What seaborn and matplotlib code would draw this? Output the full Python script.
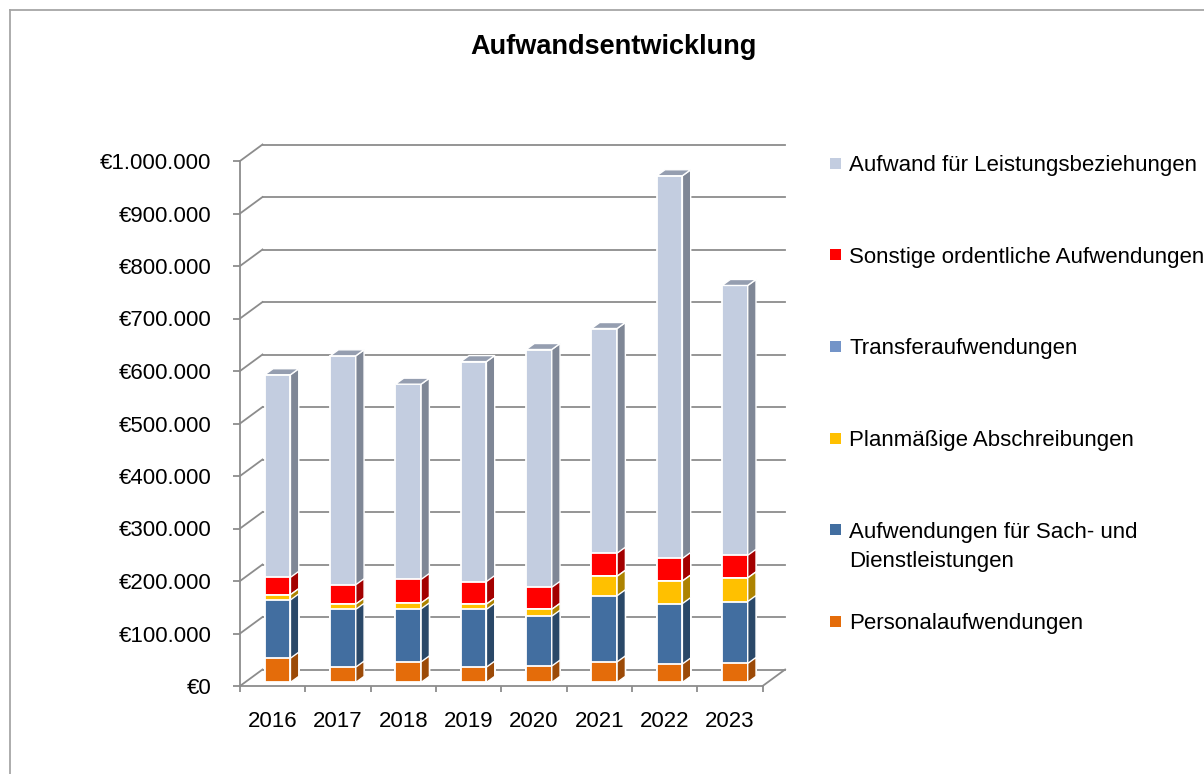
import numpy as np
import matplotlib
matplotlib.use("Agg")
import matplotlib.pyplot as plt
import seaborn as sns
from matplotlib.patches import Polygon, Rectangle
from matplotlib.lines import Line2D
from matplotlib.ticker import FuncFormatter

# ---------------- data ----------------
years = ["2016", "2017", "2018", "2019", "2020", "2021", "2022", "2023"]
personal = [46000, 29000, 39000, 29000, 31000, 39000, 35000, 36000]
sach_dienst = [111000, 110000, 101000, 110000, 95000, 126000, 115000, 118000]
abschreibungen = [10000, 10000, 11000, 10000, 13000, 37000, 43000, 45000]
transfer = [0, 0, 0, 0, 0, 0, 0, 0]
sonstige = [33000, 37000, 45000, 43000, 42000, 44000, 43000, 43000]
leistung = [386000, 436000, 372000, 419000, 453000, 428000, 729000, 514000]

series_names = ["Personalaufwendungen",
                "Aufwendungen für Sach- und\nDienstleistungen",
                "Planmäßige Abschreibungen",
                "Transferaufwendungen",
                "Sonstige ordentliche Aufwendungen",
                "Aufwand für Leistungsbeziehungen"]
series_values = [personal, sach_dienst, abschreibungen, transfer, sonstige, leistung]
front_colors = ["#E46C0A", "#426EA0", "#FFC000", "#7394C8", "#FF0000", "#C3CDE0"]
side_colors = ["#9C4A07", "#2A4868", "#AD8300", "#4E6690", "#A30000", "#7F8796"]
top_color = "#959EB0"

yticks = list(range(0, 1000001, 100000))

# ---------------- figure ----------------
W, H = 1204, 774
plt.rcParams["font.family"] = ["Liberation Sans", "DejaVu Sans"]
fig = plt.figure(figsize=(W / 100, H / 100), dpi=100)
fig.patch.set_facecolor("white")

ax_left, ax_right, ax_bottom, ax_top = 240, 762.6, 686, 161
ax = fig.add_axes([ax_left / W, (H - ax_bottom) / H,
                   (ax_right - ax_left) / W, (ax_bottom - ax_top) / H])
ax.set_facecolor("none")

n = len(years)
px_per_cat = (ax_right - ax_left) / n
px_per_val = (ax_bottom - ax_top) / 1e6

# 3D geometry (in pixels -> data units)
wall_dx = 22.5 / px_per_cat
wall_dy = 16.5 / px_per_val
bar_dx = 8.3 / px_per_cat
bar_dy = 6.0 / px_per_val
depth_frac = 0.22
off_x = depth_frac * wall_dx
off_y = depth_frac * wall_dy
bar_w = 0.393
grid_c = "#8C8C8C"

# back wall gridlines + left wall diagonals
for v in yticks:
    ax.plot([-0.5, -0.5 + wall_dx], [v, v + wall_dy], color=grid_c, lw=1.3,
            clip_on=False, zorder=0.5)
    ax.plot([-0.5 + wall_dx, n - 0.5 + wall_dx], [v + wall_dy, v + wall_dy],
            color=grid_c, lw=1.3, clip_on=False, zorder=0.5)
# floor right edge
ax.plot([n - 0.5, n - 0.5 + wall_dx], [0, wall_dy], color=grid_c, lw=1.3,
        clip_on=False, zorder=0.5)

# stacked bars drawn as cumulative layers (tallest first)
cum = np.cumsum(np.array(series_values, dtype=float), axis=0)
for k in range(len(series_values) - 1, -1, -1):
    n_before = len(ax.patches)
    sns.barplot(x=years, y=cum[k], color=front_colors[k], saturation=1,
                width=bar_w, edgecolor="white", linewidth=1.3, ax=ax, zorder=1)
    new = ax.patches[n_before:]
    for p in new:
        p.set_x(p.get_x() + off_x)
        p.set_y(off_y)
        x0 = p.get_x()
        w = p.get_width()
        y0 = off_y
        y1 = off_y + p.get_height()
        side = Polygon([(x0 + w, y0), (x0 + w + bar_dx, y0 + bar_dy),
                        (x0 + w + bar_dx, y1 + bar_dy), (x0 + w, y1)],
                       closed=True, facecolor=side_colors[k], edgecolor="white",
                       linewidth=1.0, clip_on=False, zorder=1)
        ax.add_patch(side)
        if k == len(series_values) - 1:
            top = Polygon([(x0, y1), (x0 + bar_dx, y1 + bar_dy),
                           (x0 + w + bar_dx, y1 + bar_dy), (x0 + w, y1)],
                          closed=True, facecolor=top_color, edgecolor="white",
                          linewidth=1.0, clip_on=False, zorder=1)
            ax.add_patch(top)
        p.set_clip_on(False)

# axes
ax.set_xlim(-0.5, n - 0.5)
ax.set_ylim(0, 1e6)
ax.set_xlabel("")
ax.set_ylabel("")
for s in ["top", "right"]:
    ax.spines[s].set_visible(False)
for s in ["left", "bottom"]:
    ax.spines[s].set_color(grid_c)
    ax.spines[s].set_linewidth(1.3)

ax.set_xticks(np.arange(-0.5, n, 1.0))
ax.set_xticklabels([])
ax.set_xticks(np.arange(n), minor=True)
ax.set_xticklabels(years, minor=True)
ax.tick_params(axis="x", which="major", length=4.5, width=1.3, color=grid_c)
ax.tick_params(axis="x", which="minor", length=0, pad=18, labelsize=16,
               labelcolor="black")

ax.set_yticks(yticks)
ax.yaxis.set_major_formatter(
    FuncFormatter(lambda v, _: "€" + f"{int(round(v)):,}".replace(",", ".")))
ax.tick_params(axis="y", length=5, width=1.3, color=grid_c, pad=15.5,
               labelsize=16, labelcolor="black")

# title
fig.text(614 / W, 1 - 47 / H, "Aufwandsentwicklung", ha="center", va="center",
         fontsize=19.5, fontweight="bold")

# legend (manual, top-to-bottom = reversed stack order)
leg_y0, leg_step, line_px = 163, 91.7, 29.5
for i, k in enumerate(range(len(series_names) - 1, -1, -1)):
    yc = leg_y0 + i * leg_step
    extra = series_names[k].count("\n") * line_px
    fig.add_artist(Rectangle((830 / W, 1 - (yc + 5.5) / H), 11 / W, 11 / H,
                             transform=fig.transFigure,
                             facecolor=front_colors[k], edgecolor="none"))
    fig.text(849 / W, 1 - (yc + 8 + extra) / H, series_names[k], ha="left",
             va="baseline", fontsize=16, linespacing=1.5)

# outer frame
frame_c = "#A6A6A6"
fig.add_artist(Line2D([9.5 / W, 9.5 / W], [0, 1 - 10 / H],
                      transform=fig.transFigure, color=frame_c, lw=1.3))
fig.add_artist(Line2D([9.5 / W, 1], [1 - 10 / H, 1 - 10 / H],
                      transform=fig.transFigure, color=frame_c, lw=1.3))

fig.savefig("out.png", dpi=100, facecolor="white")
